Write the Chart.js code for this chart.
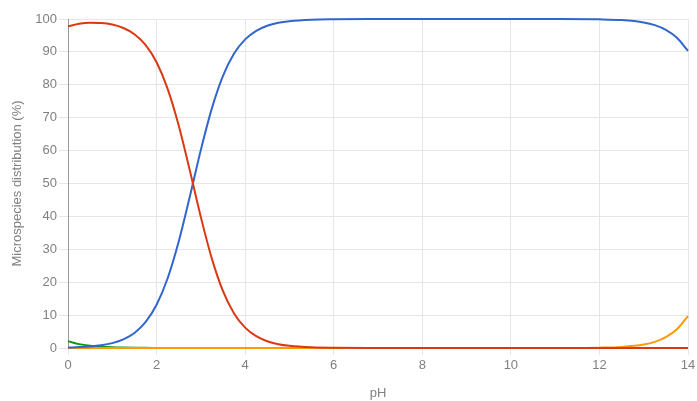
<!DOCTYPE html>
<html><head><meta charset="utf-8">
<script src="https://cdn.jsdelivr.net/npm/chart.js@4/dist/chart.umd.min.js"></script>
<style>html,body{margin:0;padding:0;background:#fff;}canvas{display:block;}</style>
</head><body>
<canvas id="c" width="697" height="401"></canvas>
<script>
const phValues = [0,0.25,0.5,0.75,1,1.25,1.5,1.75,2,2.25,2.5,2.75,3,3.25,3.5,3.75,4,4.25,4.5,4.75,5,5.5,6,7,8,9,10,11,12,12.5,13,13.25,13.5,13.75,14];
const neutralSeries = [0.15,0.27,0.47,0.84,1.49,2.62,4.56,7.84,13.15,21.21,32.37,45.98,60.22,72.91,82.72,89.49,93.80,96.42,97.95,98.84,99.34,99.79,99.93,99.99,100,100,100,99.99,99.89,99.66,98.94,98.13,96.72,94.31,90.32];
const cationSeries = [97.76,98.55,98.86,98.78,98.30,97.26,95.37,92.12,86.84,78.78,67.63,54.02,39.78,27.09,17.28,10.51,6.20,3.58,2.05,1.16,0.66,0.21,0.07,0.01,0,0,0,0,0,0,0,0,0,0,0];
const anionSeries = [0,0,0,0,0,0,0,0,0,0,0,0,0,0,0,0,0,0,0,0,0,0,0,0,0,0,0,0.01,0.11,0.34,1.06,1.87,3.28,5.69,9.68];
const dicationSeries = [2.09,1.18,0.67,0.38,0.21,0.12,0.07,0.04,0.02,0,0,0,0,0,0,0,0,0,0,0,0,0,0,0,0,0,0,0,0,0,0,0,0,0,0];
const xTicks = [0,2,4,6,8,10,12,14];
const yTicks = [0,10,20,30,40,50,60,70,80,90,100];

const toXY = arr => arr.map((v,i)=>({x:phValues[i], y:v}));
const FONT = '"Liberation Sans", Arial, sans-serif';
const common = {pointRadius:0, borderWidth:2, fill:false, cubicInterpolationMode:'monotone', clip:4};

new Chart(document.getElementById('c'), {
  type:'line',
  data:{datasets:[
    Object.assign({label:'cation', data:toXY(cationSeries), borderColor:'#dc3912', order:0}, common),
    Object.assign({label:'neutral', data:toXY(neutralSeries), borderColor:'#3366cc', order:1}, common),
    Object.assign({label:'anion', data:toXY(anionSeries), borderColor:'#ff9900', order:2}, common),
    Object.assign({label:'dication', data:toXY(dicationSeries), borderColor:'#109618', order:3}, common)
  ]},
  options:{
    responsive:false, animation:false,
    layout:{padding:{left:10, right:9, top:19, bottom:0}},
    plugins:{legend:{display:false}, tooltip:{enabled:false}},
    scales:{
      x:{type:'linear', min:0, max:14,
        afterBuildTicks: s => { s.ticks = xTicks.map(v=>({value:v})); },
        afterFit: s => { s.paddingLeft = 0; s.paddingRight = 0; s.height = 53; },
        grid:{color:'#e6e6e6', drawTicks:true, tickLength:7, tickColor:'#e6e6e6'},
        border:{color:'#e6e6e6'},
        ticks:{color:'#808080', font:{family:FONT, size:13}, padding:3, maxRotation:0},
        title:{display:true, text:'pH', color:'#808080', font:{family:FONT, size:13}, padding:{top:3, bottom:0}}
      },
      y:{min:0, max:100,
        afterBuildTicks: s => { s.ticks = yTicks.map(v=>({value:v})); },
        afterFit: s => { s.paddingTop = 0; s.paddingBottom = 0; s.width = 58; },
        grid:{color:'#e6e6e6', drawTicks:true, tickLength:9, tickColor:'#e6e6e6'},
        border:{color:'#999999'},
        ticks:{color:'#808080', font:{family:FONT, size:13}, padding:2},
        title:{display:true, text:'Microspecies distribution (%)', color:'#808080', font:{family:FONT, size:13}, padding:{top:0, bottom:2}}
      }
    }
  }
});
</script>
</body></html>
